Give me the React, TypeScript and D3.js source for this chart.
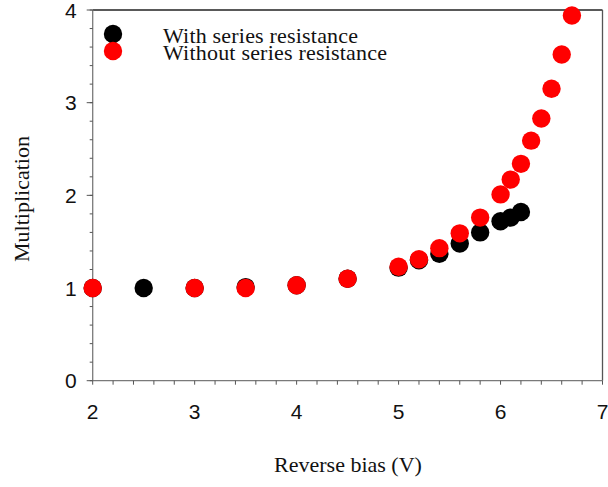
import React from "react";
import * as d3 from "d3";

const withX = [2, 2.5, 3, 3.5, 4, 4.5, 5, 5.2, 5.4, 5.6, 5.8, 6.0, 6.1, 6.2];
const withY = [1.0, 1.0, 1.0, 1.01, 1.03, 1.1, 1.22, 1.3, 1.37, 1.48, 1.6, 1.72, 1.76, 1.82];
const withoutX = [2, 3, 3.5, 4, 4.5, 5, 5.2, 5.4, 5.6, 5.8, 6.0, 6.1, 6.2, 6.3, 6.4, 6.5, 6.6, 6.7];
const withoutY = [1.0, 1.0, 1.0, 1.03, 1.1, 1.23, 1.31, 1.43, 1.59, 1.76, 2.01, 2.17, 2.34, 2.59, 2.83, 3.15, 3.52, 3.94];
const xTicks = [2, 3, 4, 5, 6, 7];
const yTicks = [0, 1, 2, 3, 4];
const legendLabels = ["With series resistance", "Without series resistance"];

export default function App() {
  const W = 608, H = 487;
  const left = 92.7, right = 602.5, top = 10, bottom = 380.7;
  const x = d3.scaleLinear().domain([2, 7]).range([left, right]);
  const y = d3.scaleLinear().domain([0, 4]).range([bottom, top]);
  const minorX = d3.range(2, 7.001, 0.2);
  const minorY = d3.range(0, 4.001, 0.2);
  const axisCol = "#7a7a7a";
  const r = 9.2;
  const serif = "Liberation Serif, Times New Roman, serif";
  return (
    <svg width={W} height={H} style={{ position: "absolute", left: 0, top: 0, background: "#fff" }}>
      <line x1={left} x2={right} y1={top} y2={top} stroke="#222" strokeWidth={1.3} />
      <line x1={right} x2={right} y1={top} y2={bottom} stroke="#555" strokeWidth={1.3} />
      <line x1={left} x2={left} y1={top} y2={bottom} stroke={axisCol} strokeWidth={1.3} />
      <line x1={left} x2={right} y1={bottom} y2={bottom} stroke={axisCol} strokeWidth={1.3} />
      {minorX.map((v, i) => (
        <line key={"mx" + i} x1={x(v)} x2={x(v)} y1={bottom} y2={bottom + 4} stroke="#555" strokeWidth={1} />
      ))}
      {minorY.map((v, i) => (
        <line key={"my" + i} x1={left - 3} x2={left} y1={y(v)} y2={y(v)} stroke="#555" strokeWidth={1} />
      ))}
      {yTicks.map((v) => (
        <line key={"My" + v} x1={left - 6} x2={left} y1={y(v)} y2={y(v)} stroke="#555" strokeWidth={1} />
      ))}
      {xTicks.map((v) => (
        <text key={"xt" + v} x={x(v)} y={bottom + 38} textAnchor="middle" fontFamily="Liberation Sans, Arial, sans-serif" fontSize={21} fill="#111">
          {v}
        </text>
      ))}
      {yTicks.map((v) => (
        <text key={"yt" + v} x={left - 16} y={y(v) + 7.5} textAnchor="end" fontFamily="Liberation Sans, Arial, sans-serif" fontSize={21} fill="#111">
          {v}
        </text>
      ))}
      {withX.map((v, i) => (
        <circle key={"b" + i} cx={x(v)} cy={y(withY[i])} r={r} fill="#000" />
      ))}
      {withoutX.map((v, i) => (
        <circle key={"r" + i} cx={x(v)} cy={y(withoutY[i])} r={r} fill="#f00" />
      ))}
      <circle cx={113} cy={34} r={r} fill="#000" />
      <circle cx={113} cy={51} r={r} fill="#f00" />
      <text x={163} y={43} fontFamily={serif} fontSize={22} fill="#111" textLength={195} lengthAdjust="spacing">{legendLabels[0]}</text>
      <text x={163} y={60} fontFamily={serif} fontSize={22} fill="#111" textLength={224} lengthAdjust="spacing">{legendLabels[1]}</text>
      <text x={348} y={472} textAnchor="middle" fontFamily={serif} fontSize={22} fill="#111">
        Reverse bias (V)
      </text>
      <text transform={`translate(29, 199) rotate(-90)`} textAnchor="middle" fontFamily={serif} fontSize={22} fill="#111">
        Multiplication
      </text>
    </svg>
  );
}
